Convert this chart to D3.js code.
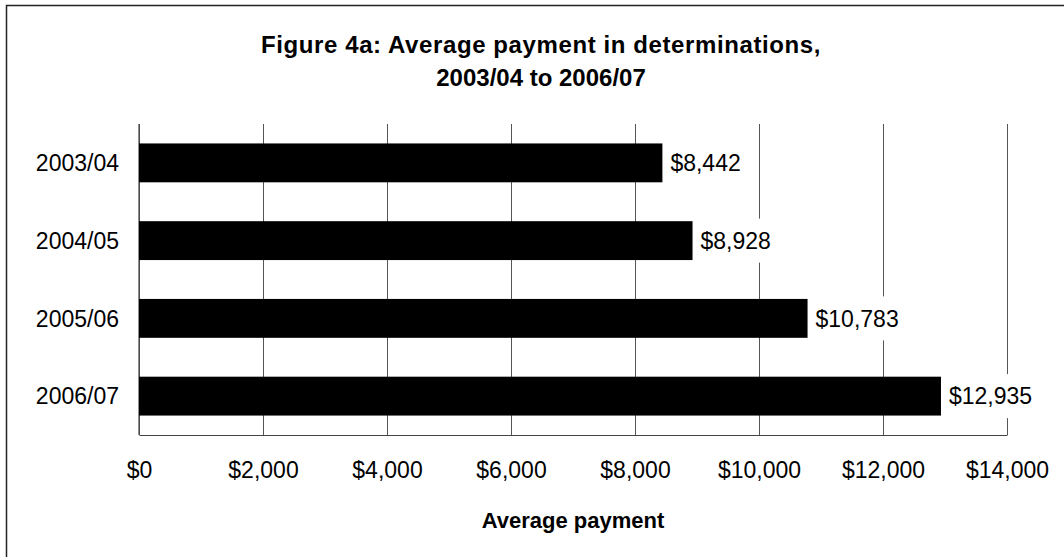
<!DOCTYPE html>
<html>
<head>
<meta charset="utf-8">
<script src="https://cdn.jsdelivr.net/npm/d3@7"></script>
<style>
  html, body { margin: 0; padding: 0; background: #fff; }
  svg { display: block; font-family: "Liberation Sans", Arial, sans-serif; }
</style>
</head>
<body>
<svg id="chart" width="1064" height="557"></svg>
<script>
const categories = ["2003/04", "2004/05", "2005/06", "2006/07"];
const values = [8442, 8928, 10783, 12935];
const tickValues = [0, 2000, 4000, 6000, 8000, 10000, 12000, 14000];
const titleLines = ["Figure 4a: Average payment in determinations,", "2003/04 to 2006/07"];
const xTitle = "Average payment";

const svg = d3.select("#chart");
const W = 1064, H = 557;
const plot = { left: 139, right: 1007, top: 124, bottom: 435 };
const FS = "23px";

// outer border (right/bottom run off the canvas as in the reference)
svg.append("rect")
  .attr("x", 6.5).attr("y", 5.5)
  .attr("width", W + 20).attr("height", H + 20)
  .attr("fill", "#fff").attr("stroke", "#222").attr("stroke-width", 1.5);

const x = d3.scaleLinear().domain([0, 14000]).range([plot.left, plot.right]);
const y = d3.scaleBand().domain(categories).range([plot.top, plot.bottom])
  .paddingInner(0.5).paddingOuter(0.25);

const fmt = v => "$" + d3.format(",")(v);

// gridlines + tick labels
const xAxis = d3.axisBottom(x)
  .tickValues(tickValues)
  .tickFormat(fmt)
  .tickSizeInner(-(plot.bottom - plot.top))
  .tickSizeOuter(0)
  .tickPadding(27);

const gx = svg.append("g")
  .attr("transform", `translate(0,${plot.bottom})`)
  .call(xAxis);
gx.select(".domain").attr("stroke", "#444").attr("stroke-width", 1.2);
gx.selectAll(".tick line").attr("stroke", "#555").attr("stroke-width", 1);
gx.selectAll(".tick text")
  .attr("fill", "#000")
  .style("font-size", FS)
  .style("font-family", "'Liberation Sans', Arial, sans-serif");

// left axis line
svg.append("line")
  .attr("x1", plot.left).attr("x2", plot.left)
  .attr("y1", plot.top).attr("y2", plot.bottom)
  .attr("stroke", "#444").attr("stroke-width", 1.2);

// category labels
const yAxis = d3.axisLeft(y).tickSize(0).tickPadding(20);
const gy = svg.append("g").attr("transform", `translate(${plot.left},0)`).call(yAxis);
gy.select(".domain").remove();
gy.selectAll(".tick text")
  .attr("fill", "#000")
  .attr("dy", "0.36em")
  .style("font-size", FS)
  .style("font-family", "'Liberation Sans', Arial, sans-serif");

// bars
svg.append("g").selectAll("rect")
  .data(categories)
  .join("rect")
  .attr("x", x(0))
  .attr("y", d => y(d))
  .attr("width", (d, i) => x(values[i]) - x(0))
  .attr("height", y.bandwidth())
  .attr("fill", "#000");

// value labels with white backgrounds
const lg = svg.append("g");
categories.forEach((c, i) => {
  const g = lg.append("g");
  const t = g.append("text")
    .attr("x", x(values[i]) + 8)
    .attr("y", y(c) + y.bandwidth() / 2)
    .attr("dy", "0.36em")
    .attr("fill", "#000")
    .style("font-size", FS)
    .text(fmt(values[i]));
  const bb = t.node().getBBox();
  g.insert("rect", "text")
    .attr("x", bb.x - 3)
    .attr("y", y(c) + y.bandwidth() / 2 - 22)
    .attr("width", bb.width + 6)
    .attr("height", 44)
    .attr("fill", "#fff");
});

// title
const title = svg.append("text")
  .attr("x", 541)
  .attr("text-anchor", "middle")
  .style("font-size", "24px")
  .style("font-weight", "bold")
  .attr("fill", "#000");
titleLines.forEach((l, i) => {
  title.append("tspan")
    .attr("x", 541)
    .attr("y", 53 + i * 32.5)
    .style("letter-spacing", i === 0 ? "0.6px" : "0px")
    .text(l);
});

// x-axis title
svg.append("text")
  .attr("x", (plot.left + plot.right) / 2)
  .attr("y", 528)
  .attr("text-anchor", "middle")
  .style("font-size", "22px")
  .style("font-weight", "bold")
  .attr("fill", "#000")
  .text(xTitle);
</script>
</body>
</html>
